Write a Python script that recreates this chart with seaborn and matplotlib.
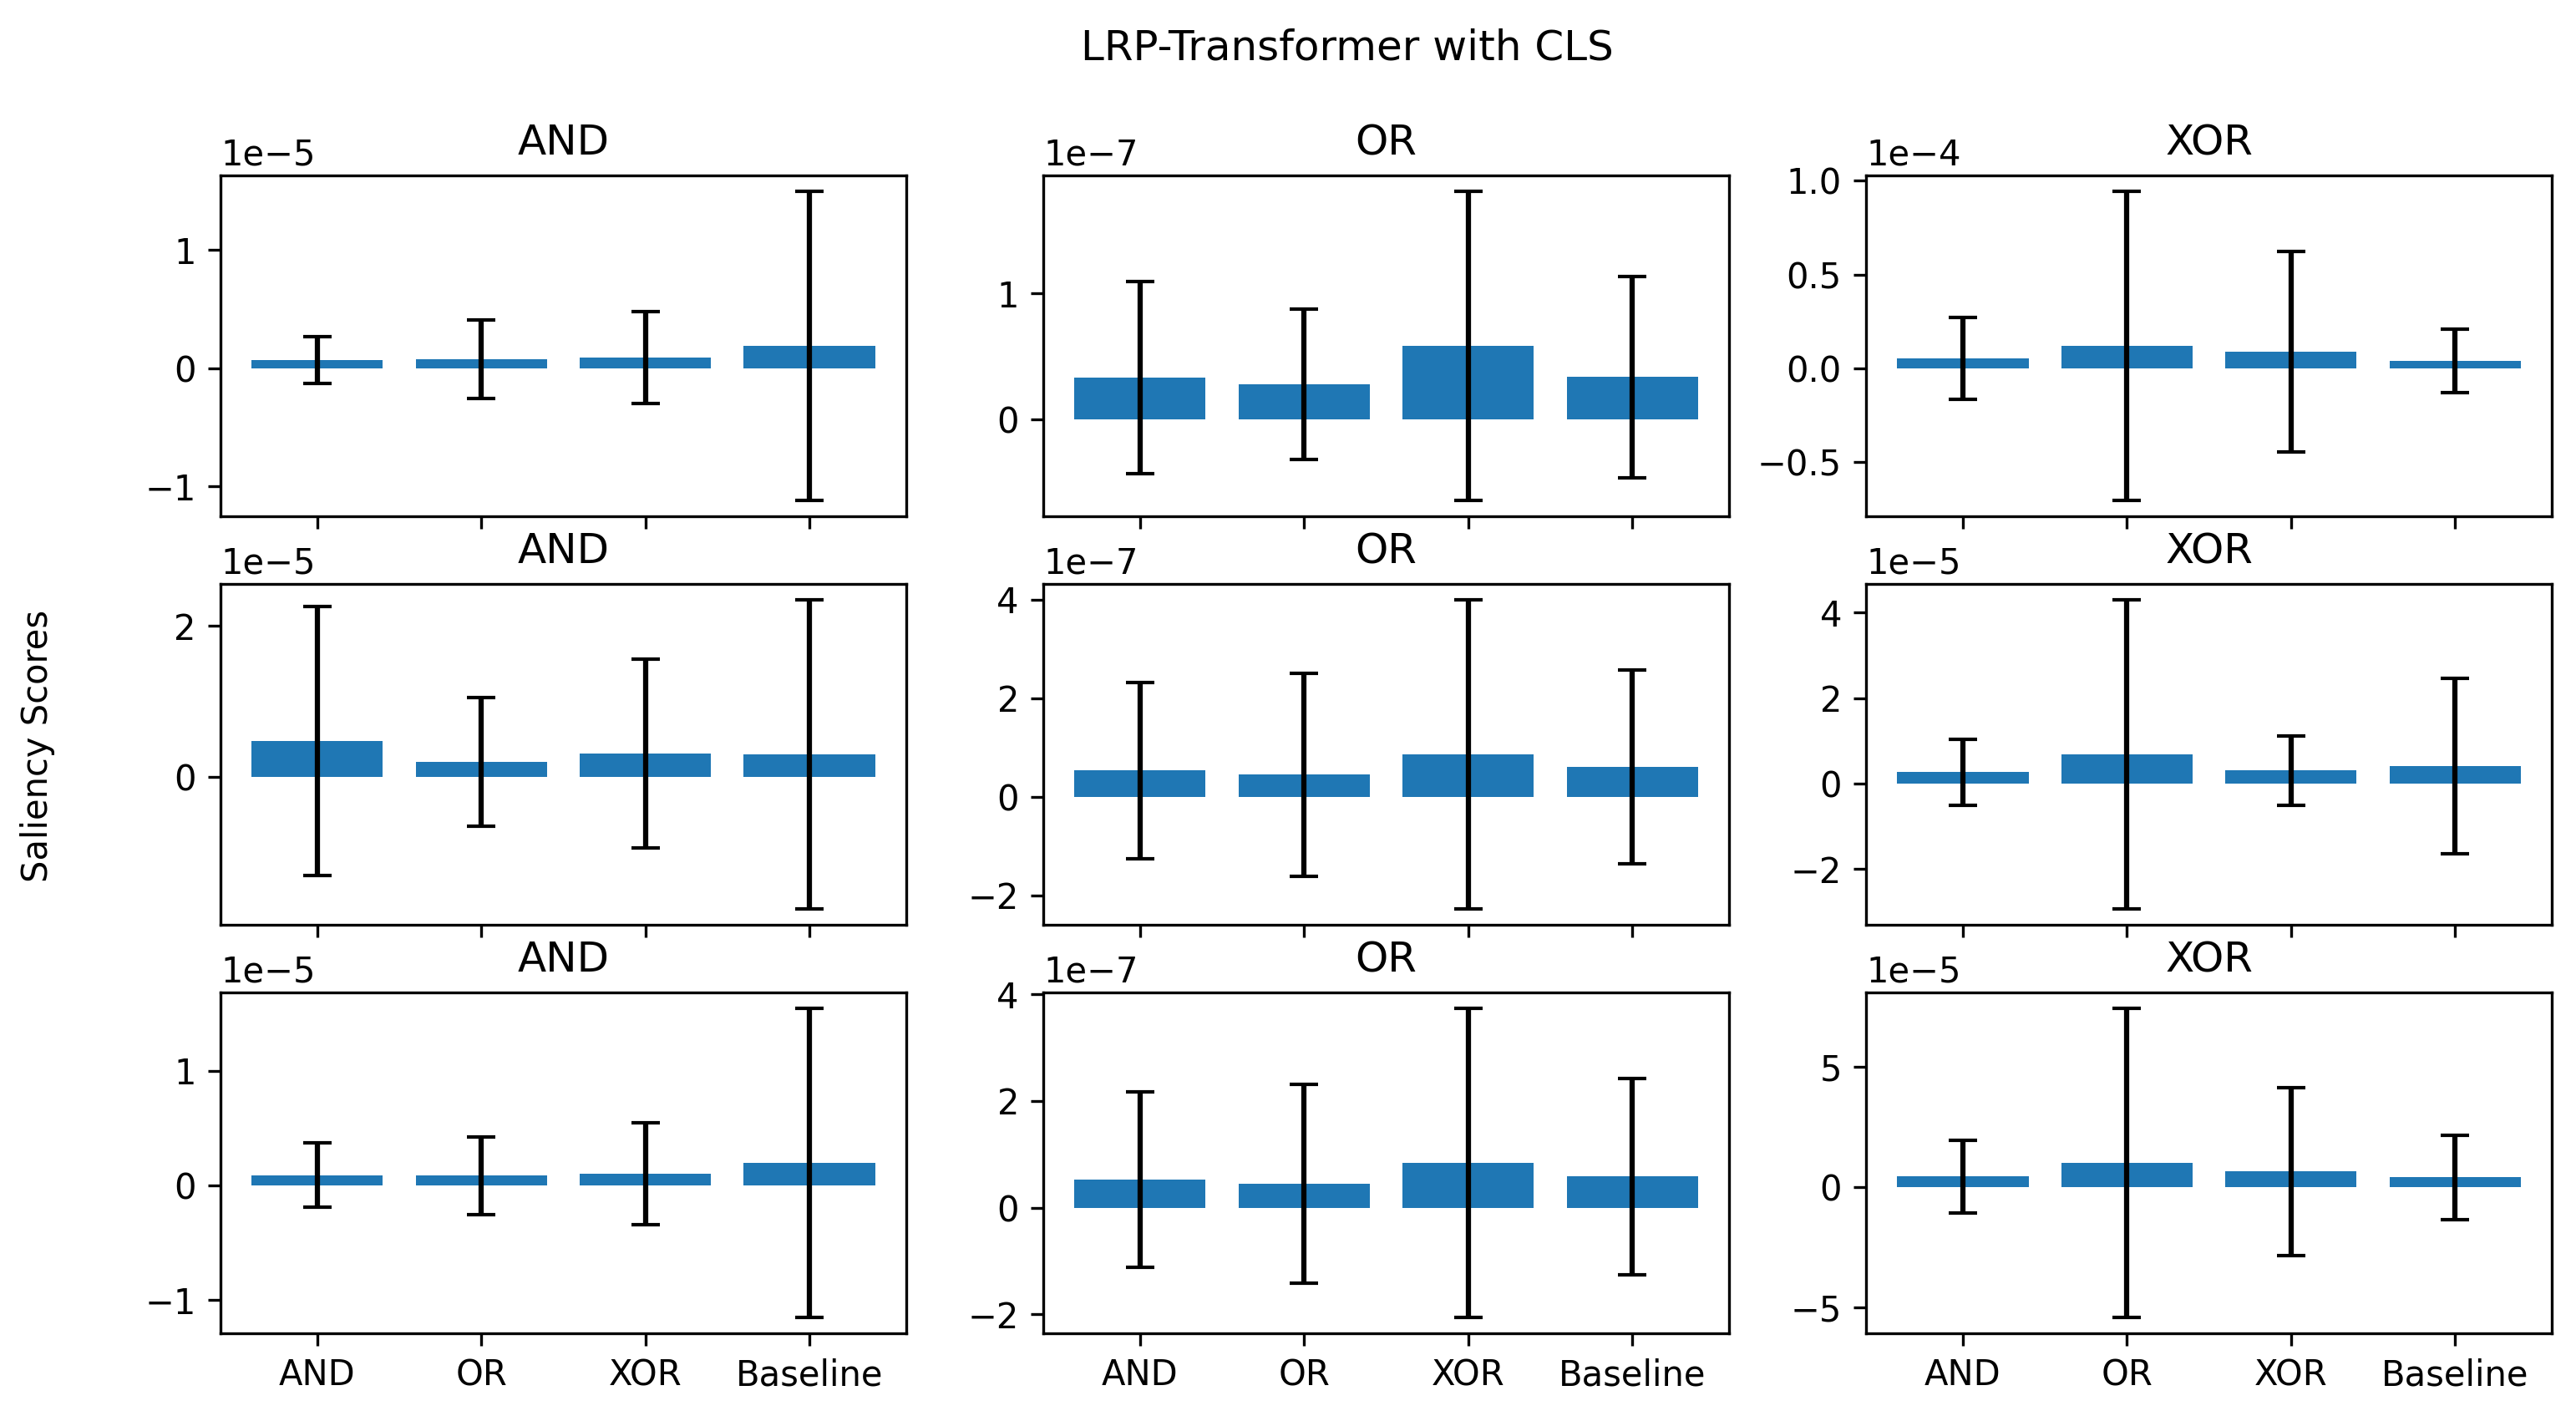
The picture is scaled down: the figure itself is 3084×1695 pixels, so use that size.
import matplotlib
matplotlib.use("Agg")
import matplotlib.pyplot as plt
import seaborn as sns
import numpy as np
import pandas as pd

methods = ["AND", "OR", "XOR", "Baseline"]
tasks = ["AND", "OR", "XOR"]

# Row 1
r1_and_mean = [0.070e-5, 0.077e-5, 0.090e-5, 0.190e-5]
r1_and_err = [0.200e-5, 0.335e-5, 0.390e-5, 1.310e-5]
r1_or_mean = [0.330e-7, 0.277e-7, 0.582e-7, 0.336e-7]
r1_or_err = [0.762e-7, 0.595e-7, 1.230e-7, 0.800e-7]
r1_xor_mean = [0.053e-4, 0.120e-4, 0.089e-4, 0.040e-4]
r1_xor_err = [0.220e-4, 0.825e-4, 0.534e-4, 0.170e-4]

# Row 2
r2_and_mean = [0.472e-5, 0.196e-5, 0.306e-5, 0.295e-5]
r2_and_err = [1.780e-5, 0.855e-5, 1.250e-5, 2.050e-5]
r2_or_mean = [0.538e-7, 0.453e-7, 0.861e-7, 0.606e-7]
r2_or_err = [1.790e-7, 2.060e-7, 3.140e-7, 1.970e-7]
r2_xor_mean = [0.268e-5, 0.680e-5, 0.307e-5, 0.405e-5]
r2_xor_err = [0.770e-5, 3.620e-5, 0.810e-5, 2.050e-5]

# Row 3
r3_and_mean = [0.089e-5, 0.084e-5, 0.100e-5, 0.194e-5]
r3_and_err = [0.280e-5, 0.340e-5, 0.445e-5, 1.350e-5]
r3_or_mean = [0.525e-7, 0.452e-7, 0.836e-7, 0.587e-7]
r3_or_err = [1.640e-7, 1.860e-7, 2.900e-7, 1.840e-7]
r3_xor_mean = [0.440e-5, 1.005e-5, 0.653e-5, 0.415e-5]
r3_xor_err = [1.510e-5, 6.450e-5, 3.490e-5, 1.760e-5]

panels = [
    [(r1_and_mean, r1_and_err), (r1_or_mean, r1_or_err), (r1_xor_mean, r1_xor_err)],
    [(r2_and_mean, r2_and_err), (r2_or_mean, r2_or_err), (r2_xor_mean, r2_xor_err)],
    [(r3_and_mean, r3_and_err), (r3_or_mean, r3_or_err), (r3_xor_mean, r3_xor_err)],
]

fig, axes = plt.subplots(3, 3, figsize=(10.28, 5.65), dpi=300, sharex=True)
fig.subplots_adjust(left=0.0856, right=0.9906, top=0.876, bottom=0.0584,
                    wspace=0.2, hspace=0.2)

for i in range(3):
    for j in range(3):
        ax = axes[i, j]
        means, errs = panels[i][j]
        df = pd.DataFrame({"method": methods, "score": means})
        sns.barplot(data=df, x="method", y="score", color="#1f77b4",
                    saturation=1, width=0.8, errorbar=None, ax=ax)
        ax.errorbar(np.arange(len(methods)), df["score"], yerr=errs,
                    fmt="none", ecolor="black", capsize=4)
        ax.set_title(tasks[j])
        ax.set_xlabel("")
        ax.set_ylabel("")
        ax.set_xlim(-0.59, 3.59)
        ax.relim()
        ax.autoscale(axis="y")
        ax.ticklabel_format(axis="y", style="sci", scilimits=(0, 0))
        if i < 2:
            ax.tick_params(labelbottom=False)

fig.suptitle("LRP-Transformer with CLS", x=0.523, y=0.98)
fig.text(0.0146, 0.473, "Saliency Scores", rotation=90, va="center", ha="center")

fig.savefig("out.png", dpi=300)
